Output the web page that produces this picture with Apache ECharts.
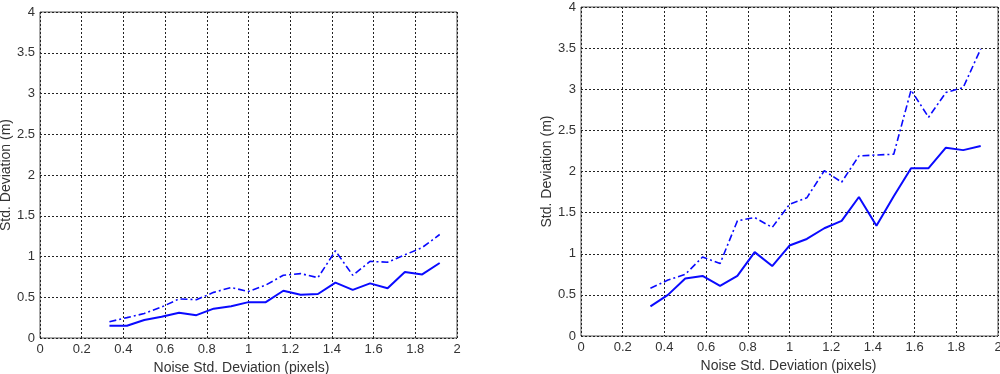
<!DOCTYPE html>
<html>
<head>
<meta charset="utf-8">
<script src="https://cdn.jsdelivr.net/npm/echarts@6/dist/echarts.min.js"></script>
<style>
html,body{margin:0;padding:0;background:#fff;}
#c{width:1000px;height:374px;}
</style>
</head>
<body>
<div id="c"></div>
<script>
const noiseX = [0.333,0.417,0.5,0.583,0.667,0.75,0.833,0.917,1.0,1.083,1.167,1.25,1.333,1.417,1.5,1.583,1.667,1.75,1.833,1.917];
const leftSolid = [0.15,0.15,0.22,0.26,0.31,0.28,0.36,0.39,0.44,0.44,0.58,0.53,0.54,0.68,0.59,0.67,0.61,0.81,0.78,0.92];
const leftDashed = [0.20,0.25,0.30,0.38,0.48,0.47,0.56,0.62,0.57,0.65,0.77,0.79,0.74,1.07,0.77,0.94,0.93,1.02,1.11,1.27];
const rightSolid = [0.36,0.50,0.70,0.73,0.61,0.73,1.02,0.85,1.10,1.18,1.31,1.40,1.69,1.34,1.70,2.04,2.04,2.29,2.26,2.31];
const rightDashed = [0.58,0.68,0.75,0.96,0.88,1.40,1.44,1.32,1.60,1.68,2.01,1.87,2.19,2.20,2.21,2.99,2.66,2.96,3.02,3.49];
const xName = 'Noise Std. Deviation (pixels)';
const yName = 'Std. Deviation (m)';

const FONT = '"Liberation Sans", Arial, sans-serif';
const TXT = '#333';
const pair = (xs, ys) => xs.map((x, i) => [x, ys[i]]);

function xAxis(idx, shift){
  return {
    gridIndex: idx, type: 'value', min: 0, max: 2, interval: 0.2,
    name: xName, nameLocation: 'middle', nameGap: 22,
    nameTextStyle: {fontFamily: FONT, fontSize: 14, color: TXT, padding: [0, shift, 0, 0]},
    axisLine: {show: false},
    axisTick: {show: false},
    axisLabel: {fontFamily: FONT, fontSize: 13, color: TXT, margin: 5,
      formatter: v => String(Math.round(v*10)/10)},
    splitLine: {show: true, lineStyle: {color: '#222', type: [2,2], width: 1}}
  };
}
function yAxis(idx){
  return {
    gridIndex: idx, type: 'value', min: 0, max: 4, interval: 0.5,
    name: yName, nameLocation: 'middle', nameGap: 26, nameRotate: 90,
    nameTextStyle: {fontFamily: FONT, fontSize: 14, color: TXT},
    axisLine: {show: false},
    axisTick: {show: false},
    axisLabel: {fontFamily: FONT, fontSize: 13, color: TXT, margin: 5,
      formatter: v => String(v)},
    splitLine: {show: true, lineStyle: {color: '#222', type: [2,2], width: 1}}
  };
}
function line(idx, data, dashed){
  return {
    type: 'line', xAxisIndex: idx, yAxisIndex: idx, data: data,
    symbol: 'none', silent: true, animation: false,
    lineStyle: dashed ? {color: '#0a0aff', width: 1.6, type: [7,3,2,3]} : {color: '#0a0aff', width: 2}
  };
}

const chart = echarts.init(document.getElementById('c'), null, {renderer: 'canvas'});
chart.setOption({
  animation: false,
  backgroundColor: '#fff',
  grid: [
    {left: 40, top: 12, width: 417, height: 326, show: true, borderColor: '#555', borderWidth: 1, backgroundColor: '#fff', containLabel: false, outerBoundsMode: 'none'},
    {left: 581, top: 7, width: 417, height: 329, show: true, borderColor: '#555', borderWidth: 1, backgroundColor: '#fff', containLabel: false, outerBoundsMode: 'none'}
  ],
  xAxis: [xAxis(0, 14), xAxis(1, 2)],
  yAxis: [yAxis(0), yAxis(1)],
  series: [
    line(0, pair(noiseX, leftSolid), false),
    line(0, pair(noiseX, leftDashed), true),
    line(1, pair(noiseX, rightSolid), false),
    line(1, pair(noiseX, rightDashed), true)
  ]
});
</script>
</body>
</html>
